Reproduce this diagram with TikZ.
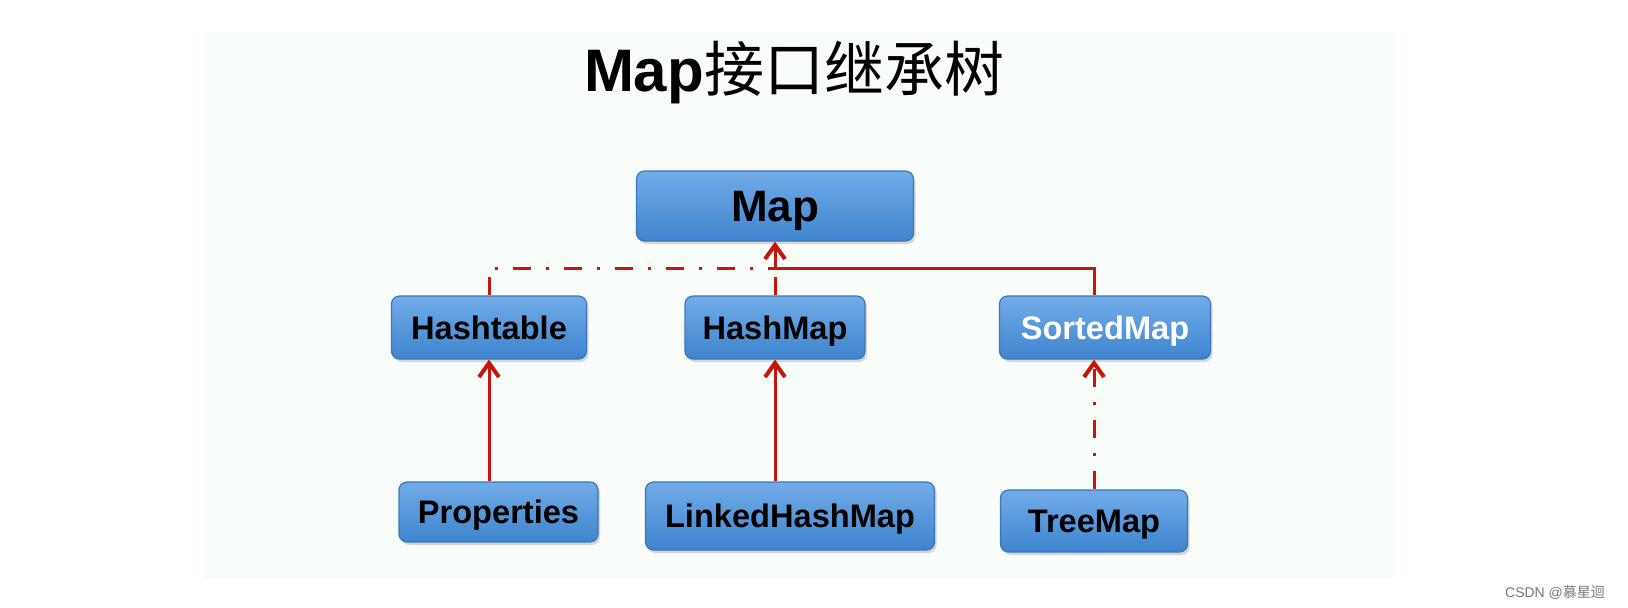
\documentclass[tikz,border=0pt]{standalone}
\usepackage{fontspec}
\setmainfont{Liberation Sans}
\newfontfamily\cjk{Noto Sans CJK SC}
\usetikzlibrary{arrows.meta,shadows}
\definecolor{linered}{RGB}{200,20,10}
\definecolor{boxtop}{RGB}{114,172,232}
\definecolor{boxbot}{RGB}{62,132,206}
\definecolor{boxline}{RGB}{58,118,190}
\definecolor{bgc}{RGB}{249,253,249}
\definecolor{wmgray}{RGB}{120,120,120}
\begin{document}
\begin{tikzpicture}[x=0.5pt,y=-0.5pt,
  cls/.style={rounded corners=4pt, top color=boxtop, bottom color=boxbot, draw=boxline, line width=0.6pt,
    drop shadow={shadow xshift=1pt,shadow yshift=-1.5pt,opacity=0.3},
    font=\bfseries\fontsize{16.3}{18}\selectfont, inner sep=0pt, text depth=0pt, text=black},
  inh/.style={draw=linered, line width=1.5pt},
  impl/.style={inh, dash pattern=on 9pt off 7.5pt on 1.5pt off 7.5pt},
  tip/.style={-{Straight Barb[length=7pt,width=10pt,line width=2pt]}}
]
\fill[white] (0,0) rectangle (1628,607);
\fill[bgc] (203,32) rectangle (1395,578);
\useasboundingbox (0,0) rectangle (1628,607);

\node[anchor=base, font=\fontsize{30}{34}\selectfont] (title) at (794,91) {{\bfseries Map}{\cjk 接口继承树}};

\node[cls, minimum width=138.5pt, minimum height=35pt, font=\bfseries\fontsize{22}{24}\selectfont] (map) at (775,206) {Map};
\node[cls, minimum width=97.5pt, minimum height=31.5pt] (hashtable) at (489,327.5) {Hashtable};
\node[cls, minimum width=90pt, minimum height=31.5pt] (hashmap) at (775,327.5) {HashMap};
\node[cls, minimum width=105.5pt, minimum height=31.5pt, text=white] (sorted) at (1105,327.5) {SortedMap};
\node[cls, minimum width=99.5pt, minimum height=30pt] (props) at (498.5,512) {Properties};
\node[cls, minimum width=144.5pt, minimum height=34pt] (linked) at (790,516) {LinkedHashMap};
\node[cls, minimum width=93.5pt, minimum height=31pt] (tree) at (1094,521) {TreeMap};

\coordinate (j) at (775,268);
\draw[impl] (hashtable.north) |- (j);
\draw[impl] (hashmap.north) -- (j);
\draw[inh] ([xshift=-5.5pt]sorted.north) |- (j);
\draw[inh,tip] (j) -- (map.south);

\draw[inh,tip] (props.north -| hashtable.south) -- (hashtable.south);
\draw[inh,tip] (linked.north -| hashmap.south) -- (hashmap.south);
\draw[impl,tip] (tree.north) -- (tree.north |- sorted.south);

\node[anchor=base east, text=wmgray, font=\fontsize{7}{8}\selectfont] (wm) at (1612,597) {CSDN @{\cjk 慕星迴}};
\end{tikzpicture}
\end{document}
